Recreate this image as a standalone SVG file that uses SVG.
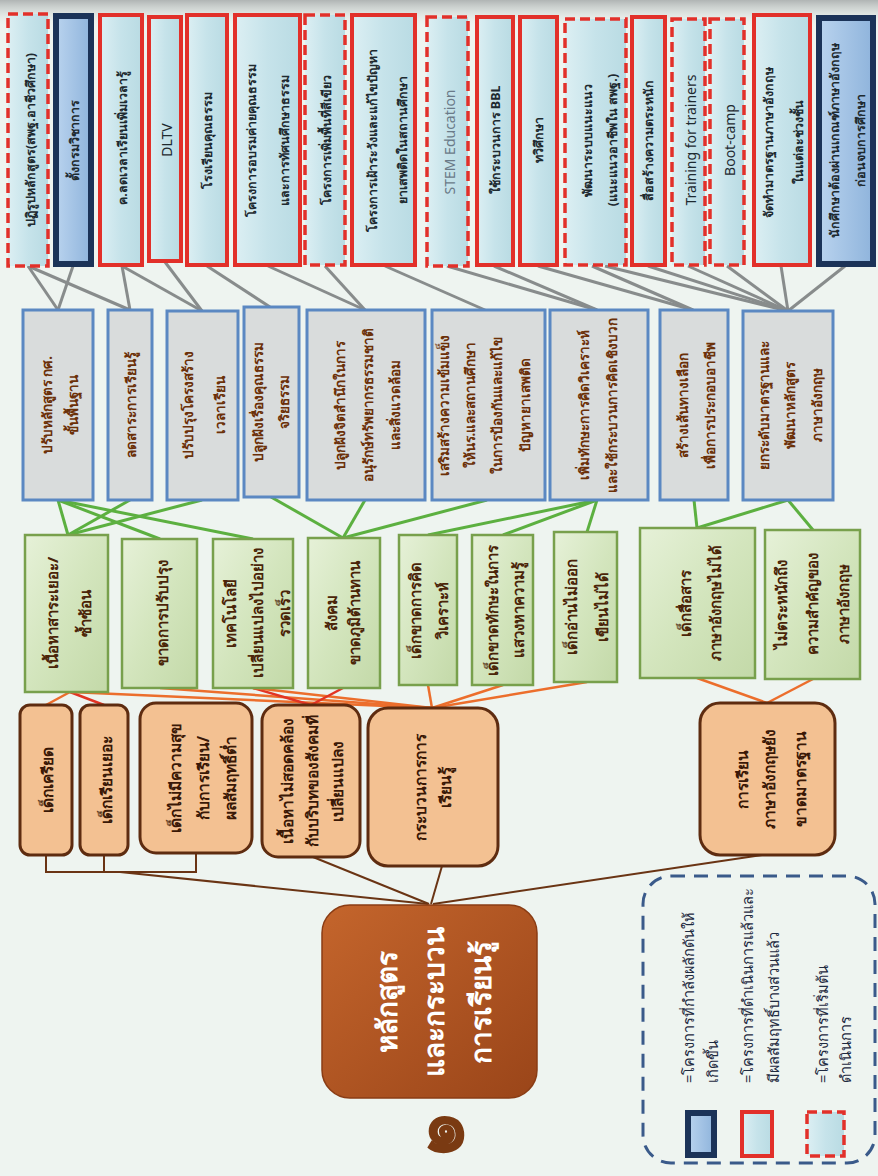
<svg xmlns="http://www.w3.org/2000/svg" width="878" height="1176" viewBox="0 0 878 1176">
<defs>
<linearGradient id="topShade" x1="0" y1="0" x2="0" y2="1"><stop offset="0" stop-color="#a9adad" stop-opacity="0.9"/><stop offset="1" stop-color="#eef4f0" stop-opacity="0"/></linearGradient>
<linearGradient id="blueFill" x1="0" y1="0" x2="1" y2="0"><stop offset="0" stop-color="#dceff3"/><stop offset="0.5" stop-color="#c6e3ea"/><stop offset="1" stop-color="#b9dbe3"/></linearGradient>
<linearGradient id="navyFill" x1="0" y1="0" x2="1" y2="0"><stop offset="0" stop-color="#b9d3ee"/><stop offset="1" stop-color="#8fb4dc"/></linearGradient>
<linearGradient id="greenFill" x1="0" y1="0" x2="1" y2="1"><stop offset="0" stop-color="#e6f1d8"/><stop offset="0.5" stop-color="#d3e5bd"/><stop offset="1" stop-color="#c3d9a8"/></linearGradient>
<linearGradient id="rootFill" x1="0" y1="0" x2="1" y2="1"><stop offset="0" stop-color="#c4652c"/><stop offset="1" stop-color="#9a4519"/></linearGradient>
<style>
.bdash{fill:url(#blueFill);stroke:#e2302a;stroke-width:3.5;stroke-dasharray:10 5}
.bred{fill:url(#blueFill);stroke:#e2302a;stroke-width:4}
.bnavy{fill:url(#navyFill);stroke:#1b3358;stroke-width:6}
.gbox{fill:#d9dcdc;stroke:#5b88c2;stroke-width:3}
.nbox{fill:url(#greenFill);stroke:#78a04c;stroke-width:2.5}
.pbox{fill:#f3c192;stroke:#5e2c10;stroke-width:3}
.root{fill:url(#rootFill);stroke:#8a3c14;stroke-width:1.5}
text{font-family:"Noto Sans","DejaVu Sans",sans-serif;text-anchor:middle;dominant-baseline:central}
.tt{font-size:12.5px;font-weight:bold;fill:#1e2a30}
.te{font-size:14px;fill:#1e2a30}
.ts{font-size:14px;fill:#6a7a88}
.gt{font-size:13.5px;font-weight:bold;fill:#6b3008}
.nt{font-size:15px;font-weight:bold;fill:#4a2408}
.pt{font-size:15.5px;font-weight:bold;fill:#3a1806}
.rt{font-size:28px;font-weight:bold;fill:#ffffff}
.lt{font-size:14.5px;fill:#1e2a40}
.cg{stroke:#888c8c;stroke-width:3;fill:none}
.cn{stroke:#5cb040;stroke-width:3;fill:none}
.co{stroke:#ec6e2c;stroke-width:2.5;fill:none}
.cr{stroke:#e23424;stroke-width:2.5;fill:none}
.cb{stroke:#6a3414;stroke-width:2;fill:none}
.legend{fill:none;stroke:#3a5a8a;stroke-width:3;stroke-dasharray:14 9}
</style>
</defs>
<rect x="0" y="0" width="878" height="1176" fill="#eef4f0"/>
<rect x="0" y="0" width="878" height="28" fill="url(#topShade)"/>

<g id="connectors">
<line class="cg" x1="28" y1="266" x2="58" y2="310"/>
<line class="cg" x1="28" y1="266" x2="130" y2="310"/>
<line class="cg" x1="73" y1="266" x2="58" y2="310"/>
<line class="cg" x1="122" y1="266" x2="130" y2="310"/>
<line class="cg" x1="122" y1="266" x2="202" y2="311"/>
<line class="cg" x1="165" y1="262" x2="202" y2="311"/>
<line class="cg" x1="207" y1="266" x2="270" y2="307"/>
<line class="cg" x1="268" y1="266" x2="365" y2="310"/>
<line class="cg" x1="325" y1="266" x2="365" y2="310"/>
<line class="cg" x1="385" y1="266" x2="485" y2="310"/>
<line class="cg" x1="447" y1="266" x2="597" y2="310"/>
<line class="cg" x1="494" y1="266" x2="597" y2="310"/>
<line class="cg" x1="538" y1="266" x2="693" y2="310"/>
<line class="cg" x1="592" y1="266" x2="693" y2="310"/>
<line class="cg" x1="605" y1="266" x2="788" y2="311"/>
<line class="cg" x1="648" y1="266" x2="788" y2="311"/>
<line class="cg" x1="688" y1="266" x2="788" y2="311"/>
<line class="cg" x1="727" y1="266" x2="788" y2="311"/>
<line class="cg" x1="781" y1="266" x2="788" y2="311"/>
<line class="cg" x1="845" y1="266" x2="788" y2="311"/>
<line class="cn" x1="58" y1="500" x2="68" y2="535"/>
<line class="cn" x1="58" y1="500" x2="160" y2="539"/>
<line class="cn" x1="58" y1="500" x2="253" y2="539"/>
<line class="cn" x1="130" y1="500" x2="68" y2="535"/>
<line class="cn" x1="202" y1="500" x2="68" y2="535"/>
<line class="cn" x1="271" y1="497" x2="343" y2="538"/>
<line class="cn" x1="365" y1="500" x2="343" y2="538"/>
<line class="cn" x1="487" y1="500" x2="343" y2="538"/>
<line class="cn" x1="597" y1="500" x2="428" y2="535"/>
<line class="cn" x1="597" y1="500" x2="503" y2="535"/>
<line class="cn" x1="597" y1="500" x2="587" y2="532"/>
<line class="cn" x1="694" y1="500" x2="697" y2="528"/>
<line class="cn" x1="788" y1="500" x2="697" y2="528"/>
<line class="cn" x1="788" y1="500" x2="813" y2="530"/>
<line class="co" x1="70" y1="692" x2="46" y2="705"/>
<line class="cr" x1="70" y1="692" x2="104" y2="705"/>
<line class="co" x1="70" y1="692" x2="432" y2="708"/>
<line class="co" x1="160" y1="688" x2="432" y2="708"/>
<line class="cr" x1="253" y1="688" x2="311" y2="705"/>
<line class="co" x1="253" y1="688" x2="432" y2="708"/>
<line class="cr" x1="343" y1="688" x2="311" y2="705"/>
<line class="co" x1="428" y1="685" x2="432" y2="708"/>
<line class="co" x1="503" y1="685" x2="432" y2="708"/>
<line class="co" x1="587" y1="682" x2="432" y2="708"/>
<line class="co" x1="697" y1="678" x2="767" y2="703"/>
<line class="co" x1="813" y1="679" x2="767" y2="703"/>
<polyline class="cb" points="46,855 46,872 196,872 196,853"/>
<line class="cb" x1="104" y1="855" x2="104" y2="872"/>
<line class="cb" x1="120" y1="872" x2="428" y2="904"/>
<line class="cb" x1="313" y1="857" x2="429" y2="904"/>
<line class="cb" x1="442" y1="866" x2="431" y2="904"/>
<line class="cb" x1="762" y1="855" x2="433" y2="904"/>
</g>

<g id="t1"><rect class="bdash" x="8" y="14" width="40" height="252"/><text class="tt" transform="translate(30,140) rotate(-90)">ปฏิรูปหลักสูตร(สพฐ.อาชีวศึกษา)</text></g>
<g id="t2"><rect class="bnavy" x="56" y="16" width="35" height="248"/><text class="tt" transform="translate(74,140) rotate(-90)">ตั้งกรมวิชาการ</text></g>
<g id="t3"><rect class="bred" x="100" y="15" width="42" height="250"/><text class="tt" transform="translate(122,138) rotate(-90)">ค.ลดเวลาเรียนเพิ่มเวลารู้</text></g>
<g id="t4"><rect class="bred" x="149" y="17" width="32" height="244"/><text class="te" transform="translate(166,140) rotate(-90)">DLTV</text></g>
<g id="t5"><rect class="bred" x="187" y="15" width="40" height="250"/><text class="tt" transform="translate(207,140) rotate(-90)">โรงเรียนคุณธรรม</text></g>
<g id="t6"><rect class="bred" x="235" y="15" width="65" height="250"/><text class="tt" transform="translate(251,140) rotate(-90)">โครงการอบรมค่ายคุณธรรม</text><text class="tt" transform="translate(284,140) rotate(-90)">และการทัศนศึกษาธรรม</text></g>
<g id="t7"><rect class="bdash" x="305" y="15" width="40" height="250"/><text class="tt" transform="translate(326,140) rotate(-90)">โครงการเพิ่มพื้นที่สีเขียว</text></g>
<g id="t8"><rect class="bred" x="352" y="15" width="63" height="250"/><text class="tt" transform="translate(372,140) rotate(-90)">โครงการเฝ้าระวังและแก้ไขปัญหา</text><text class="tt" transform="translate(402,140) rotate(-90)">ยาเสพติดในสถานศึกษา</text></g>
<g id="t9"><rect class="bdash" x="427" y="17" width="41" height="249"/><text class="ts" transform="translate(449,142) rotate(-90)">STEM Education</text></g>
<g id="t10"><rect class="bred" x="477" y="17" width="36" height="248"/><text class="tt" transform="translate(495,140) rotate(-90)">ใช้กระบวนการ BBL</text></g>
<g id="t11"><rect class="bred" x="520" y="17" width="37" height="248"/><text class="tt" transform="translate(538,140) rotate(-90)">ทวิศึกษา</text></g>
<g id="t12"><rect class="bdash" x="565" y="19" width="61" height="246"/><text class="tt" transform="translate(587,140) rotate(-90)">พัฒนาระบบแนะแนว</text><text class="tt" transform="translate(612,140) rotate(-90)">(แนะแนวอาชีพใน สพฐ.)</text></g>
<g id="t13"><rect class="bred" x="632" y="17" width="33" height="248"/><text class="tt" transform="translate(648,140) rotate(-90)">สื่อสร้างความตระหนัก</text></g>
<g id="t14"><rect class="bdash" x="672" y="19" width="33" height="246"/><text class="te" transform="translate(690,140) rotate(-90)">Training for trainers</text></g>
<g id="t15"><rect class="bdash" x="710" y="19" width="34" height="246"/><text class="te" transform="translate(729,140) rotate(-90)">Boot-camp</text></g>
<g id="t16"><rect class="bred" x="754" y="15" width="56" height="250"/><text class="tt" transform="translate(768,142) rotate(-90)">จัดทำมาตรฐานภาษาอังกฤษ</text><text class="tt" transform="translate(798,142) rotate(-90)">ในแต่ละช่วงชั้น</text></g>
<g id="t17"><rect class="bnavy" x="819" y="18" width="54" height="246"/><text class="tt" transform="translate(834,140) rotate(-90)">นักศึกษาต้องผ่านเกณฑ์ภาษาอังกฤษ</text><text class="tt" transform="translate(860,140) rotate(-90)">ก่อนจบการศึกษา</text></g>

<g id="g1"><rect class="gbox" x="23" y="310" width="70" height="190"/><text class="gt" transform="translate(47,405) rotate(-90)">ปรับหลักสูตร กศ.</text><text class="gt" transform="translate(73,405) rotate(-90)">ขั้นพื้นฐาน</text></g>
<g id="g2"><rect class="gbox" x="108" y="310" width="44" height="190"/><text class="gt" transform="translate(131,405) rotate(-90)">ลดสาระการเรียนรู้</text></g>
<g id="g3"><rect class="gbox" x="167" y="311" width="71" height="189"/><text class="gt" transform="translate(188,405) rotate(-90)">ปรับปรุงโครงสร้าง</text><text class="gt" transform="translate(220,405) rotate(-90)">เวลาเรียน</text></g>
<g id="g4"><rect class="gbox" x="244" y="307" width="55" height="190"/><text class="gt" transform="translate(258,402) rotate(-90)">ปลูกฝังเรื่องคุณธรรม</text><text class="gt" transform="translate(284,402) rotate(-90)">จริยธรรม</text></g>
<g id="g5"><rect class="gbox" x="307" y="310" width="118" height="190"/><text class="gt" transform="translate(340,405) rotate(-90)">ปลูกฝังจิตสำนึกในการ</text><text class="gt" transform="translate(368,405) rotate(-90)">อนุรักษ์ทรัพยากรธรรมชาติ</text><text class="gt" transform="translate(395,405) rotate(-90)">และสิ่งแวดล้อม</text></g>
<g id="g6"><rect class="gbox" x="432" y="310" width="113" height="190"/><text class="gt" transform="translate(444,405) rotate(-90)">เสริมสร้างความเข้มแข็ง</text><text class="gt" transform="translate(470,405) rotate(-90)">ให้นร.และสถานศึกษา</text><text class="gt" transform="translate(497,405) rotate(-90)">ในการป้องกันและแก้ไข</text><text class="gt" transform="translate(525,405) rotate(-90)">ปัญหายาเสพติด</text></g>
<g id="g7"><rect class="gbox" x="550" y="310" width="98" height="190"/><text class="gt" transform="translate(584,405) rotate(-90)">เพิ่มทักษะการคิดวิเคราะห์</text><text class="gt" transform="translate(612,405) rotate(-90)">และใช้กระบวนการคิดเชิงบวก</text></g>
<g id="g8"><rect class="gbox" x="660" y="310" width="68" height="190"/><text class="gt" transform="translate(683,405) rotate(-90)">สร้างเส้นทางเลือก</text><text class="gt" transform="translate(710,405) rotate(-90)">เพื่อการประกอบอาชีพ</text></g>
<g id="g9"><rect class="gbox" x="743" y="311" width="90" height="189"/><text class="gt" transform="translate(764,405) rotate(-90)">ยกระดับมาตรฐานและ</text><text class="gt" transform="translate(790,405) rotate(-90)">พัฒนาหลักสูตร</text><text class="gt" transform="translate(817,405) rotate(-90)">ภาษาอังกฤษ</text></g>

<g id="n1"><rect class="nbox" x="25" y="535" width="83" height="157"/><text class="nt" transform="translate(52,613) rotate(-90)">เนื้อหาสาระเยอะ/</text><text class="nt" transform="translate(85,613) rotate(-90)">ซ้ำซ้อน</text></g>
<g id="n2"><rect class="nbox" x="122" y="539" width="75" height="149"/><text class="nt" transform="translate(162,613) rotate(-90)">ขาดการปรับปรุง</text></g>
<g id="n3"><rect class="nbox" x="213" y="539" width="80" height="149"/><text class="nt" transform="translate(230,613) rotate(-90)">เทคโนโลยี</text><text class="nt" transform="translate(257,613) rotate(-90)">เปลี่ยนแปลงไปอย่าง</text><text class="nt" transform="translate(284,613) rotate(-90)">รวดเร็ว</text></g>
<g id="n4"><rect class="nbox" x="308" y="538" width="72" height="150"/><text class="nt" transform="translate(331,613) rotate(-90)">สังคม</text><text class="nt" transform="translate(354,613) rotate(-90)">ขาดภูมิต้านทาน</text></g>
<g id="n5"><rect class="nbox" x="399" y="535" width="58" height="150"/><text class="nt" transform="translate(415,610) rotate(-90)">เด็กขาดการคิด</text><text class="nt" transform="translate(442,610) rotate(-90)">วิเคราะห์</text></g>
<g id="n6"><rect class="nbox" x="472" y="535" width="61" height="150"/><text class="nt" transform="translate(492,610) rotate(-90)">เด็กขาดทักษะในการ</text><text class="nt" transform="translate(518,610) rotate(-90)">แสวงหาความรู้</text></g>
<g id="n7"><rect class="nbox" x="554" y="532" width="63" height="150"/><text class="nt" transform="translate(571,607) rotate(-90)">เด็กอ่านไม่ออก</text><text class="nt" transform="translate(602,607) rotate(-90)">เขียนไม่ได้</text></g>
<g id="n8"><rect class="nbox" x="640" y="528" width="115" height="150"/><text class="nt" transform="translate(685,603) rotate(-90)">เด็กสื่อสาร</text><text class="nt" transform="translate(715,603) rotate(-90)">ภาษาอังกฤษไม่ได้</text></g>
<g id="n9"><rect class="nbox" x="765" y="530" width="95" height="149"/><text class="nt" transform="translate(781,604) rotate(-90)">ไม่ตระหนักถึง</text><text class="nt" transform="translate(812,604) rotate(-90)">ความสำคัญของ</text><text class="nt" transform="translate(843,604) rotate(-90)">ภาษาอังกฤษ</text></g>

<g id="p1"><rect class="pbox" x="20" y="705" width="52" height="150" rx="10"/><text class="pt" transform="translate(47,780) rotate(-90)">เด็กเครียด</text></g>
<g id="p2"><rect class="pbox" x="80" y="705" width="48" height="150" rx="10"/><text class="pt" transform="translate(106,780) rotate(-90)">เด็กเรียนเยอะ</text></g>
<g id="p3"><rect class="pbox" x="140" y="703" width="112" height="150" rx="16"/><text class="pt" transform="translate(175,778) rotate(-90)">เด็กไม่มีความสุข</text><text class="pt" transform="translate(203,778) rotate(-90)">กับการเรียน/</text><text class="pt" transform="translate(230,778) rotate(-90)">ผลสัมฤทธิ์ต่ำ</text></g>
<g id="p4"><rect class="pbox" x="262" y="705" width="98" height="152" rx="16"/><text class="pt" transform="translate(287,781) rotate(-90)">เนื้อหาไม่สอดคล้อง</text><text class="pt" transform="translate(312,781) rotate(-90)">กับบริบทของสังคมที่</text><text class="pt" transform="translate(337,781) rotate(-90)">เปลี่ยนแปลง</text></g>
<g id="p5"><rect class="pbox" x="368" y="708" width="130" height="158" rx="20"/><text class="pt" transform="translate(420,787) rotate(-90)">กระบวนการการ</text><text class="pt" transform="translate(445,787) rotate(-90)">เรียนรู้</text></g>
<g id="p6"><rect class="pbox" x="700" y="703" width="135" height="152" rx="20"/><text class="pt" transform="translate(742,779) rotate(-90)">การเรียน</text><text class="pt" transform="translate(769,779) rotate(-90)">ภาษาอังกฤษยัง</text><text class="pt" transform="translate(800,779) rotate(-90)">ขาดมาตรฐาน</text></g>

<g id="root"><rect class="root" x="322" y="905" width="215" height="193" rx="28"/><text class="rt" transform="translate(386,1002) rotate(-90)">หลักสูตร</text><text class="rt" transform="translate(433,1002) rotate(-90)">และกระบวน</text><text class="rt" transform="translate(480,1002) rotate(-90)">การเรียนรู้</text></g>
<g id="pagenum"><text x="446" y="1152" style="font-size:76px;font-weight:bold;fill:#7a3a12;dominant-baseline:alphabetic">๑</text></g>

<g id="legend">
<rect class="legend" x="643" y="876" width="232" height="287" rx="28"/>
<rect class="bnavy" x="688" y="1113" width="26" height="42"/>
<rect class="bred" x="742" y="1112" width="30" height="44"/>
<rect class="bdash" x="807" y="1112" width="37" height="44"/>
<text class="lt" style="text-anchor:start" transform="translate(688,1083) rotate(-90)">=โครงการที่กำลังผลักดันให้</text>
<text class="lt" style="text-anchor:start" transform="translate(712,1083) rotate(-90)">เกิดขึ้น</text>
<text class="lt" style="text-anchor:start" transform="translate(747,1083) rotate(-90)">=โครงการที่ดำเนินการแล้วและ</text>
<text class="lt" style="text-anchor:start" transform="translate(773,1083) rotate(-90)">มีผลสัมฤทธิ์บางส่วนแล้ว</text>
<text class="lt" style="text-anchor:start" transform="translate(822,1083) rotate(-90)">=โครงการที่เริ่มต้น</text>
<text class="lt" style="text-anchor:start" transform="translate(845,1083) rotate(-90)">ดำเนินการ</text>
</g>
</svg>
